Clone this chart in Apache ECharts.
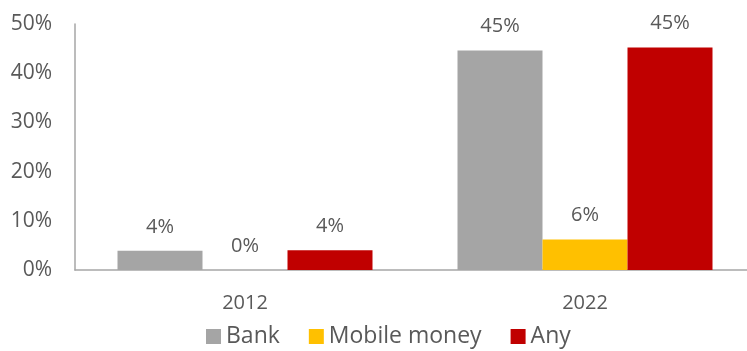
<!DOCTYPE html>
<html>
<head>
<meta charset="utf-8">
<script src="https://cdn.jsdelivr.net/npm/echarts@6/dist/echarts.min.js"></script>
<style>
  html, body { margin: 0; padding: 0; background: #ffffff; }
  #chart { width: 747px; height: 351px; }
</style>
</head>
<body>
<div id="chart"></div>
<script>
// Account ownership share by year
const years = ['2012', '2022'];
const bank = [3.9, 44.6];
const mobileMoney = [0, 6.2];
const anyAccount = [4.0, 45.2];
const yTicks = [0, 10, 20, 30, 40, 50];

const textColor = '#595959';
const fontFamily = '"Open Sans", "Noto Sans", sans-serif';

const chart = echarts.init(document.getElementById('chart'), null, { renderer: 'canvas' });

function barSeries(name, data, color) {
  return {
    name: name,
    type: 'bar',
    data: data,
    barWidth: 85,
    barGap: '0%',
    itemStyle: { color: color },
    label: {
      show: true,
      position: 'top',
      distance: 14,
      color: textColor,
      fontFamily: fontFamily,
      fontSize: 20,
      formatter: p => Math.round(p.value) + '%'
    }
  };
}

chart.setOption({
  animation: false,
  backgroundColor: '#ffffff',
  // plot area runs a little past the right edge of the canvas
  grid: { left: 75, top: 24, width: 680, height: 246, containLabel: false, outerBoundsMode: 'none' },
  legend: {
    left: 201,
    top: 320,
    itemWidth: 15,
    itemHeight: 15,
    itemGap: 29,
    itemTextGap: 8,
    icon: 'rect',
    textStyle: { color: textColor, fontFamily: fontFamily, fontSize: 23 },
    data: ['Bank', 'Mobile money', 'Any']
  },
  xAxis: {
    type: 'category',
    data: years,
    axisLine: { show: true, lineStyle: { color: '#a6a6a6', width: 1.5 } },
    axisTick: { show: false },
    axisLabel: { color: textColor, fontFamily: fontFamily, fontSize: 20, margin: 23 }
  },
  yAxis: {
    type: 'value',
    min: yTicks[0],
    max: yTicks[yTicks.length - 1],
    interval: 10,
    splitLine: { show: false },
    axisLine: { show: true, lineStyle: { color: '#a6a6a6', width: 1.5 } },
    axisTick: { show: false },
    axisLabel: { color: textColor, fontFamily: fontFamily, fontSize: 21, margin: 23, formatter: v => v + '%' }
  },
  series: [
    barSeries('Bank', bank, '#a5a5a5'),
    barSeries('Mobile money', mobileMoney, '#ffc000'),
    barSeries('Any', anyAccount, '#c00000')
  ]
});
</script>
</body>
</html>
